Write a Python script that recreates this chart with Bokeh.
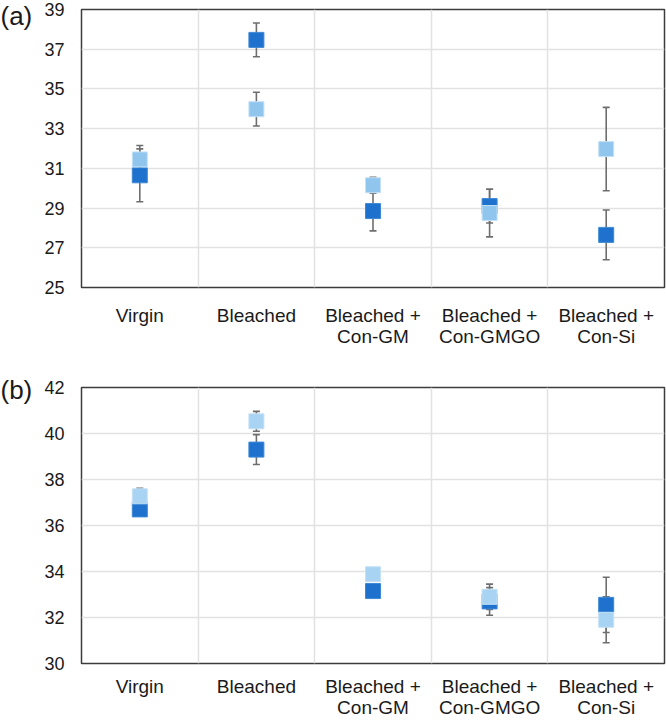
from bokeh.plotting import figure
from bokeh.models import ColumnDataSource, Whisker, TeeHead, FixedTicker, Range1d
from bokeh.core.properties import value
from bokeh.layouts import column, row
from bokeh.embed import file_html
from bokeh.resources import INLINE

categories = ["Virgin", "Bleached", "Bleached +\nCon-GM", "Bleached +\nCon-GMGO", "Bleached +\nCon-Si"]

# panel (a)
a_dark = [30.65, 37.47, 28.85, 29.10, 27.65]
a_dark_err = [1.33, 0.85, 1.00, 0.85, 1.25]
a_light = [31.45, 33.98, 30.15, 28.75, 31.97]
a_light_err = [0.70, 0.85, 0.40, 1.20, 2.10]
a_ticks = [25, 27, 29, 31, 33, 35, 37, 39]

# panel (b)
b_dark = [36.70, 39.30, 33.15, 32.70, 32.55]
b_dark_err = [0.20, 0.65, 0.10, 0.60, 1.20]
b_light = [37.27, 40.53, 33.88, 32.90, 31.90]
b_light_err = [0.35, 0.43, 0.10, 0.55, 1.00]
b_ticks = [30, 32, 34, 36, 38, 40, 42]

DARK = "#1E72CD"
FONT = "Liberation Sans"
TXT = "#1a1a1a"
LBL_W = 40


def make_tag(tag, height, from_top):
    f = figure(width=LBL_W, height=height, x_range=Range1d(0, LBL_W), y_range=Range1d(0, height),
               title=None, output_backend="svg", toolbar_location=None,
               x_axis_location=None, y_axis_location=None, min_border=0, frame_align=False)
    f.outline_line_color = None
    f.grid.visible = False
    f.text(x=[0], y=[height - from_top], text=[tag], text_font=value(FONT), text_font_size="26px",
           text_color=TXT, text_baseline="middle", text_align="left")
    return f


def make_panel(ticks, dark, dark_err, light, light_err, light_color, height, btop, bbottom, xstand):
    n = len(categories)
    xs = [i + 0.5 for i in range(n)]
    p = figure(width=666 - LBL_W, height=height, x_range=Range1d(0, n), y_range=Range1d(ticks[0], ticks[-1]),
               output_backend="svg", toolbar_location=None, frame_align=False,
               min_border_left=81 - LBL_W, min_border_right=2, min_border_top=btop, min_border_bottom=bbottom)
    p.outline_line_color = "#3c3c3c"
    p.outline_line_width = 1.5
    p.background_fill_color = "white"
    p.border_fill_color = "white"

    # axes
    p.xaxis.ticker = FixedTicker(ticks=xs)
    p.xaxis.major_label_overrides = {x: c for x, c in zip(xs, categories)}
    p.yaxis.ticker = FixedTicker(ticks=ticks)
    for ax in (p.xaxis, p.yaxis):
        ax.major_tick_line_color = None
        ax.minor_tick_line_color = None
        ax.major_tick_out = 0
        ax.major_tick_in = 0
        ax.minor_tick_out = 0
        ax.axis_line_color = None
        ax.major_label_text_font = FONT
        ax.major_label_text_color = TXT
    p.xaxis.major_label_text_font_size = "19px"
    p.xaxis.major_label_text_line_height = 1.0
    p.yaxis.major_label_text_font_size = "18px"
    p.xaxis.major_label_standoff = xstand
    p.yaxis.major_label_standoff = 17

    # grids
    p.xgrid.ticker = FixedTicker(ticks=[1, 2, 3, 4])
    p.xgrid.grid_line_color = "#e2e2e2"
    p.xgrid.grid_line_width = 1.5
    p.ygrid.grid_line_color = "#e2e2e2"
    p.ygrid.grid_line_width = 1.5

    for vals, errs, color, lc in ((dark, dark_err, DARK, "#3d88d6"), (light, light_err, light_color, "#c4e1f6")):
        src = ColumnDataSource(dict(
            x=xs, y=vals,
            lo=[v - e for v, e in zip(vals, errs)],
            hi=[v + e for v, e in zip(vals, errs)],
        ))
        w = Whisker(base="x", lower="lo", upper="hi", source=src, dimension="height",
                    line_color="#6e6e6e", line_width=1.6,
                    lower_head=TeeHead(size=7, line_color="#6e6e6e", line_width=1.6),
                    upper_head=TeeHead(size=7, line_color="#6e6e6e", line_width=1.6),
                    level="underlay")
        p.add_layout(w)
        p.scatter("x", "y", source=src, marker="square", size=15, fill_color=color,
                  line_color=lc, line_width=1)
    return p


HA, TA, BA = 370, 9, 83
HB, TB, BB = 350, 17, 56
pa = make_panel(a_ticks, a_dark, a_dark_err, a_light, a_light_err, "#90C6EE", HA, TA, BA, 17)
pb = make_panel(b_ticks, b_dark, b_dark_err, b_light, b_light_err, "#A9D3F3", HB, TB, BB, 12)

layout = column(row(make_tag("(a)", HA, 15), pa, spacing=0),
                row(make_tag("(b)", HB, 19), pb, spacing=0), spacing=0)
open("out.html", "w").write(file_html(layout, INLINE))
